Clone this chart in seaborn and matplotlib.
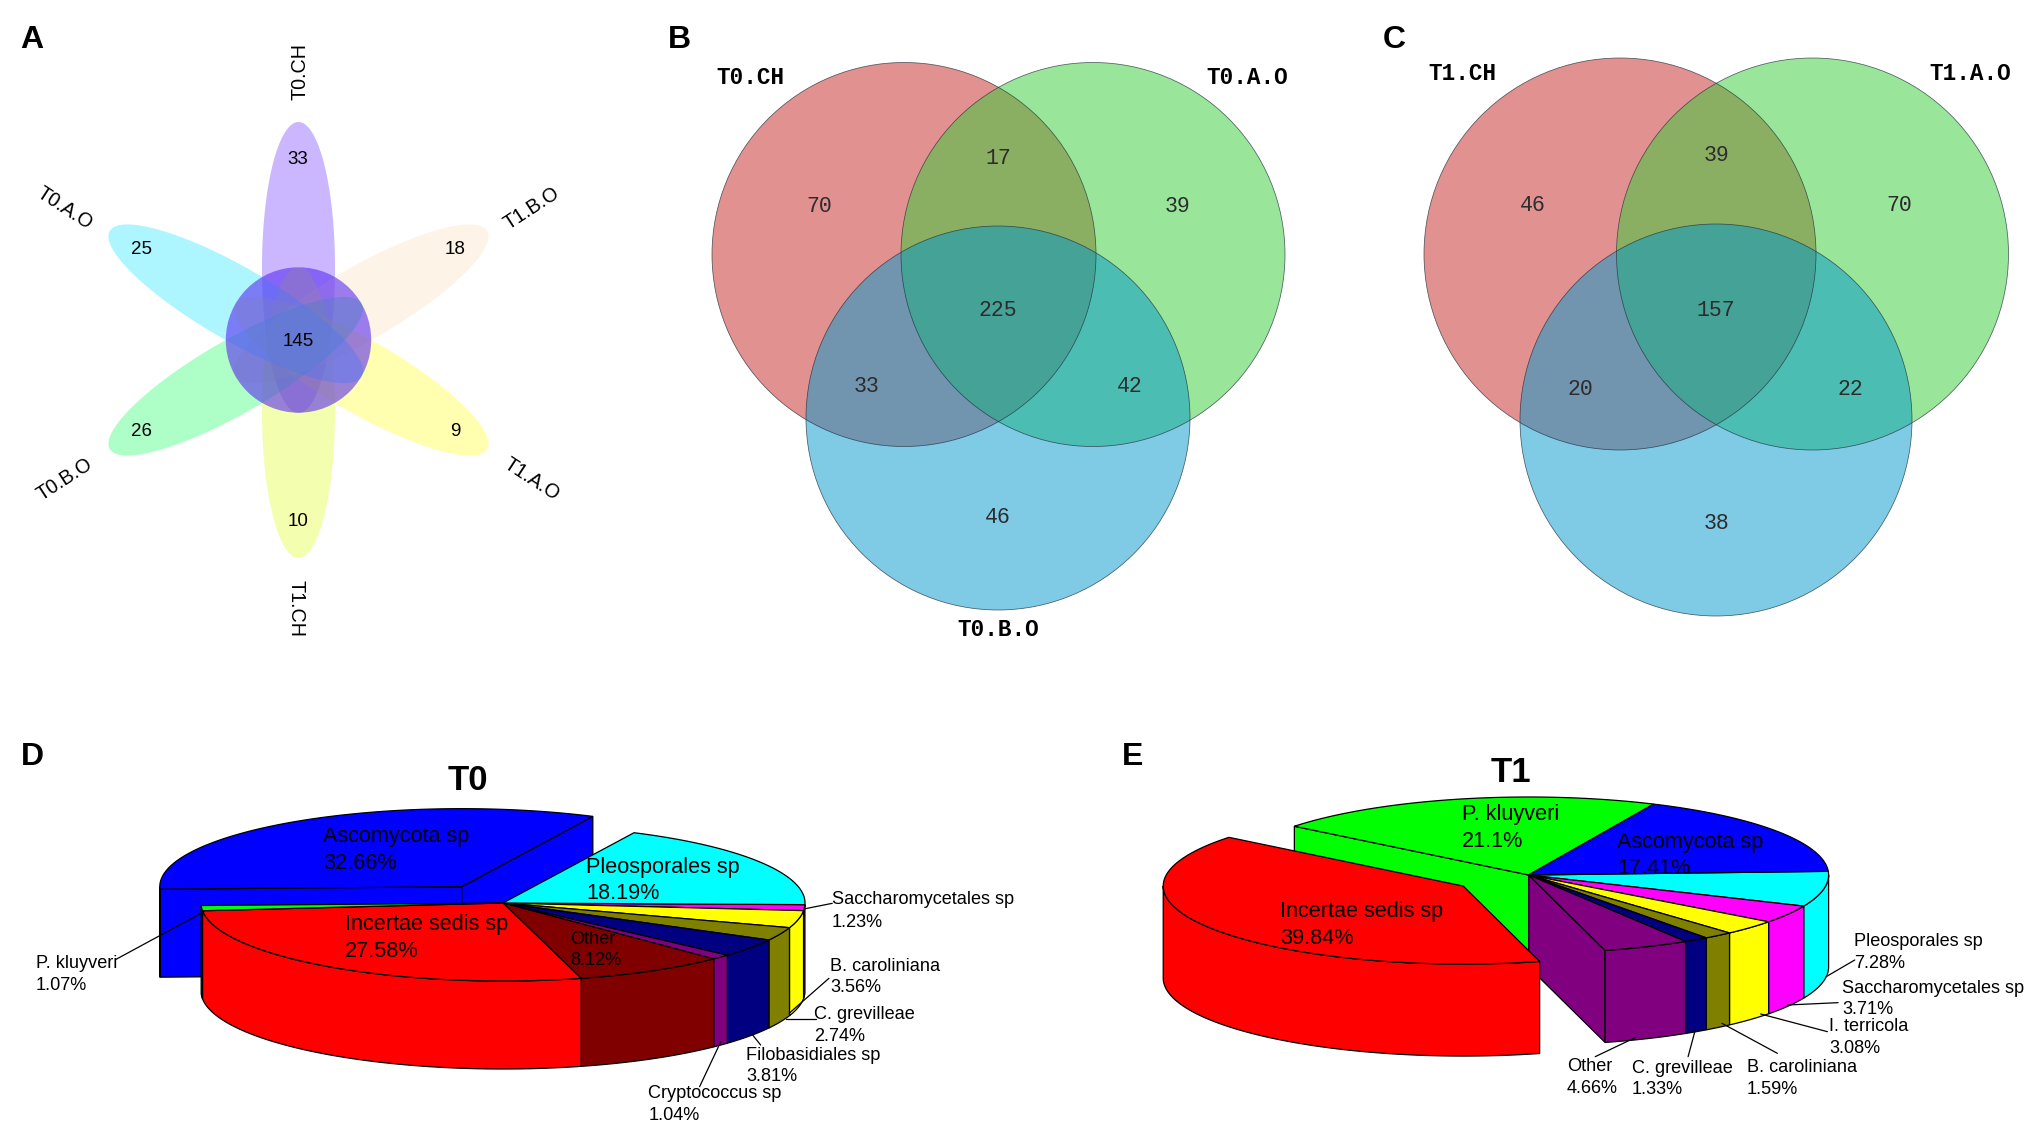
import numpy as np
import matplotlib
matplotlib.use("Agg")
import matplotlib.pyplot as plt
from matplotlib.patches import Polygon, Circle
import seaborn as sns

# ---------- data ----------
flower_sets = ["T0.CH", "T1.B.O", "T1.A.O", "T1.CH", "T0.B.O", "T0.A.O"]
flower_unique = [33, 18, 9, 10, 26, 25]
flower_core = 145

venn_b_sets = ["T0.CH", "T0.A.O", "T0.B.O"]
venn_b_counts = [70, 39, 46, 17, 33, 42, 225]
venn_c_sets = ["T1.CH", "T1.A.O"]
venn_c_counts = [46, 70, 38, 39, 20, 22, 157]

t0_names = ["Saccharomycetales sp", "B. caroliniana", "C. grevilleae", "Filobasidiales sp",
            "Cryptococcus sp", "Other", "Incertae sedis sp", "P. kluyveri",
            "Ascomycota sp", "Pleosporales sp"]
t0_values = [1.23, 3.56, 2.74, 3.81, 1.04, 8.12, 27.58, 1.07, 32.66, 18.19]

t1_names = ["Pleosporales sp", "Saccharomycetales sp", "I. terricola", "B. caroliniana",
            "C. grevilleae", "Other", "Incertae sedis sp", "P. kluyveri", "Ascomycota sp"]
t1_values = [7.28, 3.71, 3.08, 1.59, 1.33, 4.66, 39.84, 21.1, 17.41]

# ---------- style ----------
sns.set_theme(style="white")
plt.rcParams["font.family"] = ["Liberation Sans", "DejaVu Sans"]
W, H = 2033, 1142
fig = plt.figure(figsize=(W / 100, H / 100), dpi=100, facecolor="white")
ax = fig.add_axes([0, 0, 1, 1])
ax.set_xlim(0, W)
ax.set_ylim(H, 0)
ax.axis("off")

for s, x, y in [("A", 32, 40), ("B", 679, 40), ("C", 1394, 40), ("D", 32, 757), ("E", 1133, 757)]:
    ax.text(x, y, s, fontsize=23, fontweight="bold", ha="center", va="center", color="black")

# ---------- panel A ----------
cx, cy = 298.5, 340
petal_a, petal_b, petal_off, core_r = 145.5, 36.5, 72.5, 72.7
petal_cols = ["#7B4DFF", "#FCE1C5", "#FFFF39", "#E1FF39", "#34FF75", "#33E6FF"]
petal_angles = [0, 60, 120, 180, 240, 300]
tt = np.linspace(0, 2 * np.pi, 240)
for ang, col in zip(petal_angles, petal_cols):
    r = np.deg2rad(ang)
    u, v = petal_b * np.cos(tt), petal_a * np.sin(tt) + petal_off
    px = cx + u * np.cos(r) + v * np.sin(r)
    py = cy + u * np.sin(r) - v * np.cos(r)
    ax.add_patch(Polygon(np.c_[px, py], closed=True, fc=col, ec="none", alpha=0.4, zorder=2))
ax.add_patch(Circle((cx, cy), core_r, fc="#5A2DF0", ec="none", alpha=0.6, zorder=3))
num_pos = [(298, 159), (455, 250), (455, 431), (298, 521), (142, 431), (142, 250)]
for (x, y), v in zip(num_pos, flower_unique):
    ax.text(x, y, str(v), fontsize=13.5, ha="center", va="center", color="black", zorder=5)
ax.text(cx, cy + 1, str(flower_core), fontsize=13.5, ha="center", va="center", color="black", zorder=5)
name_pos = [(300, 72, 90), (532, 208, 33), (532, 479, -33), (296, 609, -90), (65, 479, 33), (65, 208, -33)]
for (x, y, rot), s in zip(name_pos, flower_sets):
    ax.text(x, y, s, fontsize=14.2, ha="center", va="center", rotation=rot,
            rotation_mode="anchor", color="black")

# ---------- panels B, C ----------
venn_cols = ["#C72525", "#35CD35", "#0197CD"]
mono = ["Liberation Mono", "DejaVu Sans Mono"]


def venn(centers, r, counts, count_pos):
    for c, col in zip(centers, venn_cols):
        ax.add_patch(Circle(c, r, fc=col, ec="none", alpha=0.5, zorder=2))
    for c in centers:
        ax.add_patch(Circle(c, r, fc="none", ec="#20303a", lw=0.55, alpha=0.75, zorder=3))
    for (x, y), v in zip(count_pos, counts):
        ax.text(x, y + 1.5, str(v), fontsize=15.5, family=mono, ha="center", va="center",
                color="#2c2c2c", zorder=5)


venn([(904, 254.5), (1093, 254.5), (998, 418)], 192, venn_b_counts,
     [(819, 205), (1177, 205), (998, 516), (998, 157), (866, 385), (1130, 385), (998, 309)])
venn([(1620, 254), (1812.5, 254), (1716, 420)], 196, venn_c_counts,
     [(1533, 204), (1899, 204), (1716, 522), (1716, 154), (1580, 388), (1850, 388), (1716, 309)])
for s, (x, y) in zip(venn_b_sets, [(750, 78), (1247, 78), (998, 629)]):
    ax.text(x, y, s, fontsize=16.3, family=mono, fontweight="bold", ha="center", va="center", color="black")
for s, (x, y) in zip(venn_c_sets, [(1462, 73), (1970, 73)]):
    ax.text(x, y, s, fontsize=16.3, family=mono, fontweight="bold", ha="center", va="center", color="black")


# ---------- pies ----------
def pie3d(cx, cy, rx, ry, depth, values, colors, start, exploded, expl, z0):
    edges = start + np.cumsum([0] + list(values)) * 3.6
    lw = 0.9
    n = len(values)

    def pts(t0, t1, ox, oy, dy=0.0):
        t = np.deg2rad(np.linspace(t0, t1, max(int(abs(t1 - t0)) * 2, 3)))
        return np.c_[cx + ox + rx * np.cos(t), cy + oy + ry * np.sin(t) + dy]

    def draw(i, layer, z):
        t0, t1 = edges[i], edges[i + 1]
        ox = oy = 0.0
        if i == exploded:
            m = np.deg2rad((t0 + t1) / 2)
            ox, oy = rx * expl * np.cos(m), ry * expl * np.sin(m)
        ap = np.array([cx + ox, cy + oy])
        col = colors[i]
        if layer == "faces":
            # a cut face shows only beside the gap of the pulled-out slice, and only if it faces the viewer
            checks = [(t0, t0 - 90, (i - 1) % n), (t1, t1 + 90, (i + 1) % n)]
            for t, normal, neighbour in checks:
                if np.sin(np.deg2rad(normal)) > 0 and (i == exploded or neighbour == exploded):
                    e = pts(t, t, ox, oy)[0]
                    q = [ap, e, e + [0, depth], ap + [0, depth]]
                    ax.add_patch(Polygon(q, closed=True, fc=col, ec="black", lw=lw, zorder=z))
        elif layer == "rim":
            a, b = max(t0, 0), min(t1, 180)
            if b > a:
                up = pts(a, b, ox, oy)
                lo = pts(a, b, ox, oy, depth)[::-1]
                ax.add_patch(Polygon(np.r_[up, lo], closed=True, fc=col, ec="black", lw=lw, zorder=z))
        else:
            ax.add_patch(Polygon(np.r_[[ap], pts(t0, t1, ox, oy)], closed=True, fc=col,
                                 ec="black", lw=lw, zorder=z))

    others = [i for i in range(n) if i != exploded]
    back = (edges[exploded] + edges[exploded + 1]) / 2 > 180
    base = z0 + (5 if back else 0)
    if back:
        for k, lay in enumerate(["faces", "rim", "top"]):
            draw(exploded, lay, z0 + k)
    for k, lay in enumerate(["faces", "rim", "top"]):
        for i in others:
            draw(i, lay, base + k + i * 0.01)
    if not back:
        for k, lay in enumerate(["faces", "rim", "top"]):
            draw(exploded, lay, base + 5 + k)


def labels(names, values, pos):
    for n, v, (x, y1, y2, fs) in zip(names, values, pos):
        txt = f"{v:g}%"
        ax.text(x, y1 + 1.5, n, fontsize=fs, ha="left", va="center", color="black", zorder=30)
        ax.text(x, y2 + 1.5, txt, fontsize=fs, ha="left", va="center", color="black", zorder=30)


t0_cols = ["#FF00FF", "#FFFF00", "#808000", "#000080", "#800080", "#800000", "#FF0000",
           "#00FF00", "#0000FF", "#00FFFF"]
pie3d(503, 903, 302, 78, 88, t0_values, t0_cols, 1.2, 8, 0.25, 4)
labels(t0_names, t0_values, [
    (832, 898, 921, 13.1), (830, 965, 986, 13.1), (814, 1013, 1035, 13.1), (746, 1054, 1075, 13.1),
    (648.5, 1092, 1114, 13.1), (570, 938, 959, 13.1), (345, 923, 950, 15.6), (36, 962, 984, 13.1),
    (323, 835, 862, 15.6), (586, 866, 892, 15.6)])
ax.text(467.5, 780, "T0", fontsize=25, fontweight="bold", ha="center", va="center", color="black")

t1_cols = ["#00FFFF", "#FF00FF", "#FFFF00", "#808000", "#000080", "#800080", "#FF0000",
           "#00FF00", "#0000FF"]
pie3d(1528.6, 875, 300, 78, 92, t1_values, t1_cols, -2.7, 6, 0.26, 4)
labels(t1_names, t1_values, [
    (1854, 940, 962, 13.1), (1842, 987, 1008, 13.1), (1829, 1025, 1047, 13.1), (1747, 1066, 1088, 13.1),
    (1632, 1067, 1088, 13.1), (1567, 1065, 1087, 13.1), (1280, 910, 937, 15.6), (1462, 813, 840, 15.6),
    (1617, 841, 867, 15.6)])
ax.text(1511, 772, "T1", fontsize=25, fontweight="bold", ha="center", va="center", color="black")

# leader lines (from the slice rim to its label)
for zx0, zy0, zx1, zy1 in [(175, 718, 303, 580), (1212, 567, 1255, 550), (1250, 775, 1190, 880),
                           (1185, 897, 1230, 897), (1135, 945, 1147, 975), (1087, 965, 1055, 1100)]:
    ax.plot([zx0 / 1.508, zx1 / 1.508], [720 + zy0 / 3, 720 + zy1 / 3], color="black", lw=0.9, zorder=25)
for zx0, zy0, zx1, zy1 in [(1220, 770, 1268, 720), (1155, 855, 1240, 848), (1110, 882, 1222, 935),
                           (1045, 910, 1138, 1000), (1000, 930, 988, 1010), (900, 952, 832, 1010)]:
    ax.plot([1100 + zx0 / 1.68, 1100 + zx1 / 1.68], [720 + zy0 / 3, 720 + zy1 / 3], color="black", lw=0.9, zorder=25)

fig.savefig("out.png", dpi=100, facecolor="white")
